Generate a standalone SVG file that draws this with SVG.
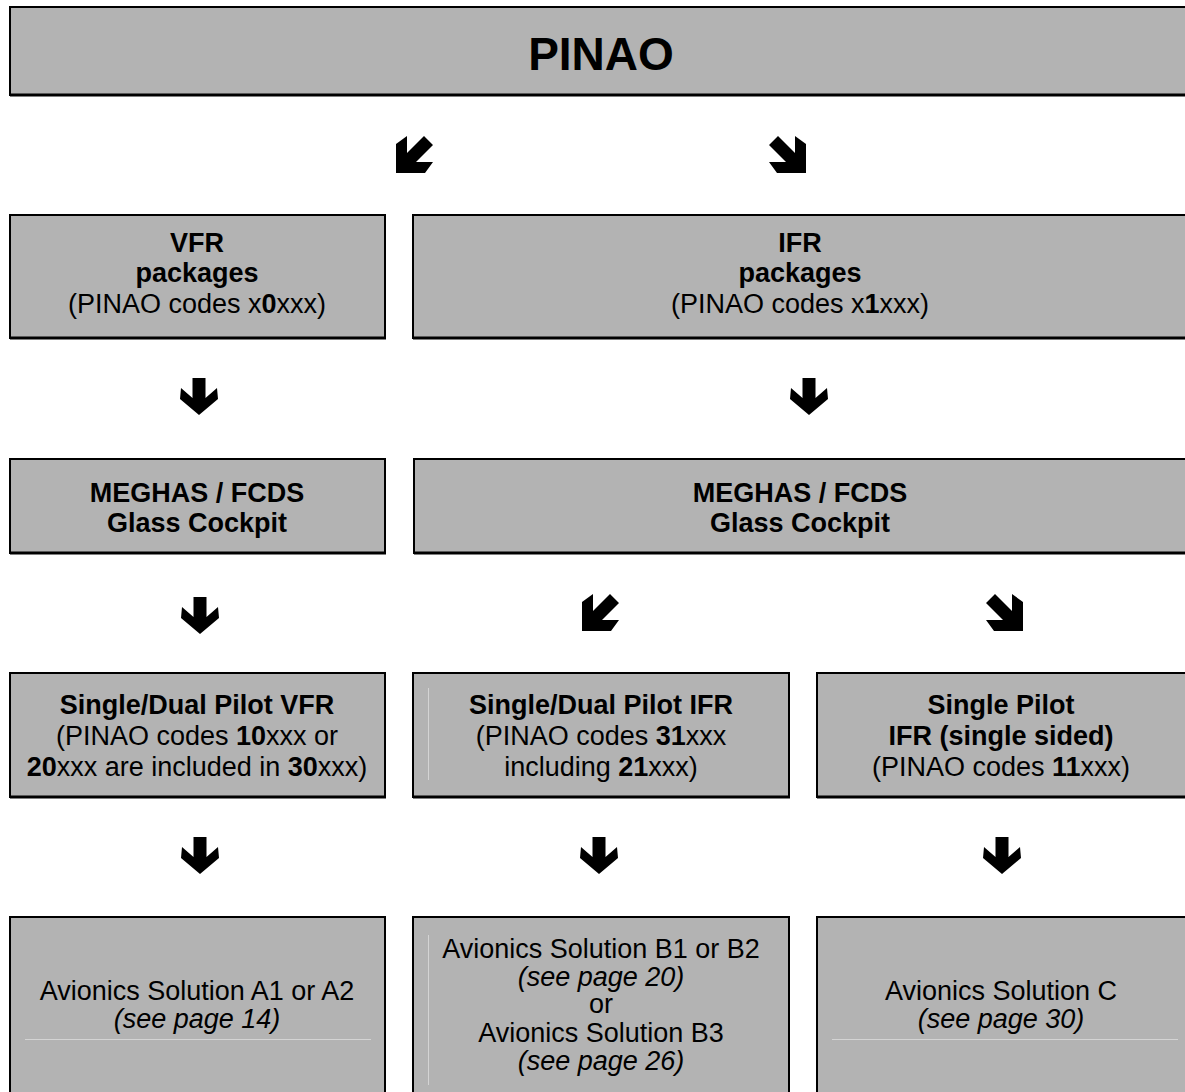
<svg xmlns="http://www.w3.org/2000/svg" width="1185" height="1092" viewBox="0 0 1185 1092">
<defs>
<style>
.box{fill:#b3b3b3;stroke:#000;stroke-width:2}
.bb{stroke:#000;stroke-width:3}
.art{stroke:#d4d4d4;stroke-width:1}
text{font-family:"Liberation Sans",Arial,sans-serif;font-size:27px;fill:#000;text-anchor:middle}
.b{font-weight:bold}
.i{font-style:italic}
.title{font-size:46px;font-weight:bold}
.arr{fill:#000}
</style>
<path id="dn" d="M12.5,0 H25.5 V20 L37,10 L38,21 L19,37 L0,21 L1,10 L12.5,20 Z"/>
<path id="sw" d="M0,8 L11,0 L11,17 L28,0 L37,9 L20,26 L37,26 L29,37 L0,37 Z"/>
<path id="se" d="M37,8 L26,0 L26,17 L9,0 L0,9 L17,26 L0,26 L8,37 L37,37 Z"/>
</defs>
<rect width="1185" height="1092" fill="#fff"/>

<g id="pinao">
<rect class="box" x="10" y="7" width="1180" height="88"/>
<line class="bb" x1="10" y1="95" x2="1185" y2="95"/>
<text class="title" x="601" y="70">PINAO</text>
</g>

<g id="vfr">
<rect class="box" x="10" y="215" width="375" height="123"/>
<line class="bb" x1="10" y1="338" x2="386" y2="338"/>
<text class="b" x="197" y="252">VFR</text>
<text class="b" x="197" y="282">packages</text>
<text x="197" y="313">(PINAO codes x<tspan class="b">0</tspan>xxx)</text>
</g>

<g id="ifr">
<rect class="box" x="413" y="215" width="780" height="123"/>
<line class="bb" x1="413" y1="338" x2="1185" y2="338"/>
<text class="b" x="800" y="252">IFR</text>
<text class="b" x="800" y="282">packages</text>
<text x="800" y="313">(PINAO codes x<tspan class="b">1</tspan>xxx)</text>
</g>

<g id="meghas-vfr">
<rect class="box" x="10" y="459" width="375" height="94"/>
<line class="bb" x1="10" y1="553" x2="386" y2="553"/>
<text class="b" x="197" y="502">MEGHAS / FCDS</text>
<text class="b" x="197" y="532">Glass Cockpit</text>
</g>

<g id="meghas-ifr">
<rect class="box" x="414" y="459" width="780" height="94"/>
<line class="bb" x1="414" y1="553" x2="1185" y2="553"/>
<text class="b" x="800" y="502">MEGHAS / FCDS</text>
<text class="b" x="800" y="532">Glass Cockpit</text>
</g>

<g id="sdp-vfr">
<rect class="box" x="10" y="673" width="375" height="124"/>
<line class="bb" x1="10" y1="797" x2="386" y2="797"/>
<text class="b" x="197" y="714">Single/Dual Pilot VFR</text>
<text x="197" y="745">(PINAO codes <tspan class="b">10</tspan>xxx or</text>
<text x="197" y="776"><tspan class="b">20</tspan>xxx are included in <tspan class="b">30</tspan>xxx)</text>
</g>

<g id="sdp-ifr">
<rect class="box" x="413" y="673" width="376" height="124"/>
<line class="bb" x1="413" y1="797" x2="790" y2="797"/>
<line class="art" x1="428.5" y1="688" x2="428.5" y2="780"/>
<text class="b" x="601" y="714">Single/Dual Pilot IFR</text>
<text x="601" y="745">(PINAO codes <tspan class="b">31</tspan>xxx</text>
<text x="601" y="776">including <tspan class="b">21</tspan>xxx)</text>
</g>

<g id="sp-ifr">
<rect class="box" x="817" y="673" width="380" height="124"/>
<line class="bb" x1="817" y1="797" x2="1185" y2="797"/>
<text class="b" x="1001" y="714">Single Pilot</text>
<text class="b" x="1001" y="745">IFR (single sided)</text>
<text x="1001" y="776">(PINAO codes <tspan class="b">11</tspan>xxx)</text>
</g>

<g id="sol-a">
<rect class="box" x="10" y="917" width="375" height="200"/>
<line class="art" x1="25" y1="1039.5" x2="371" y2="1039.5"/>
<text x="197" y="1000">Avionics Solution A1 or A2</text>
<text class="i" x="197" y="1028">(see page 14)</text>
</g>

<g id="sol-b">
<rect class="box" x="413" y="917" width="376" height="200"/>
<line class="art" x1="428.5" y1="935" x2="428.5" y2="1085"/>
<text x="601" y="958">Avionics Solution B1 or B2</text>
<text class="i" x="601" y="986">(see page 20)</text>
<text x="601" y="1013">or</text>
<text x="601" y="1042">Avionics Solution B3</text>
<text class="i" x="601" y="1070">(see page 26)</text>
</g>

<g id="sol-c">
<rect class="box" x="817" y="917" width="380" height="200"/>
<line class="art" x1="832" y1="1039.5" x2="1178" y2="1039.5"/>
<text x="1001" y="1000">Avionics Solution C</text>
<text class="i" x="1001" y="1028">(see page 30)</text>
</g>

<g id="connectors" class="arr">
<use href="#sw" x="396" y="136"/>
<use href="#se" x="769" y="136"/>
<use href="#dn" x="180" y="378"/>
<use href="#dn" x="790" y="378"/>
<use href="#dn" x="181" y="597"/>
<use href="#sw" x="582" y="594"/>
<use href="#se" x="986" y="594"/>
<use href="#dn" x="181" y="837"/>
<use href="#dn" x="580" y="837"/>
<use href="#dn" x="983" y="837"/>
</g>
</svg>
